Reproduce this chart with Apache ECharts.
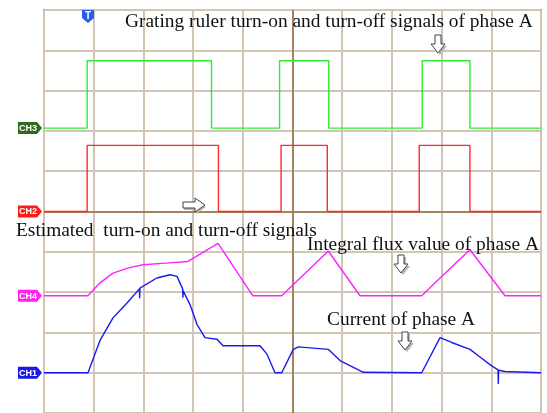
<!DOCTYPE html>
<html>
<head>
<meta charset="utf-8">
<script src="https://cdn.jsdelivr.net/npm/echarts@6/dist/echarts.min.js"></script>
<style>
  html, body { margin: 0; padding: 0; background: #ffffff; }
  #scope { width: 547px; height: 413px; }
</style>
</head>
<body>
<div id="scope"></div>
<script>
// Time axis in screen divisions (0..10), levels in vertical divisions (0..10, bottom = 0)

// CH3: grating ruler switching signal (green)
const ch3Time  = [0, 0.868, 0.868, 3.37, 3.37, 4.74, 4.74, 5.73, 5.73, 7.61, 7.61, 8.57, 8.57, 10];
const ch3Level = [7.07, 7.07, 8.74, 8.74, 7.07, 7.07, 8.74, 8.74, 7.07, 7.07, 8.74, 8.74, 7.07, 7.07];

// CH2: estimated switching signal (red)
const ch2Time  = [0, 0.868, 0.868, 3.51, 3.51, 4.77, 4.77, 5.70, 5.70, 7.55, 7.55, 8.57, 8.57, 10];
const ch2Level = [5.0, 5.0, 6.64, 6.64, 5.0, 5.0, 6.64, 6.64, 5.0, 5.0, 6.64, 6.64, 5.0, 5.0];

// CH4: integral flux of phase A (magenta)
const ch4Time  = [0, 0.885, 1.127, 1.388, 1.70, 1.992, 2.45, 2.897, 3.501, 4.199, 4.783, 5.72, 6.358, 7.60, 7.968, 8.571, 9.276, 10];
const ch4Level = [2.91, 2.91, 3.23, 3.47, 3.60, 3.68, 3.72, 3.76, 4.21, 2.91, 2.91, 4.02, 2.91, 2.91, 3.35, 4.05, 2.91, 2.91];

// CH1: current of phase A (blue)
const ch1Time  = [0, 0.885, 1.127, 1.388, 1.67, 1.92, 1.925, 1.93, 2.27, 2.535, 2.676, 2.79, 2.795, 2.80, 2.938, 3.078, 3.239, 3.481, 3.602, 4.346, 4.487, 4.648, 4.783, 5.016, 5.117, 5.72, 5.956, 6.425, 7.60, 7.968, 8.203, 8.571, 8.738, 9.008, 9.135, 9.141, 9.147, 9.276, 10];
const ch1Level = [1.0, 1.0, 1.80, 2.36, 2.73, 3.08, 2.85, 3.10, 3.35, 3.43, 3.39, 3.08, 2.86, 3.03, 2.69, 2.20, 1.87, 1.83, 1.67, 1.67, 1.46, 1.0, 1.0, 1.58, 1.64, 1.58, 1.30, 1.01, 1.0, 1.87, 1.75, 1.58, 1.42, 1.17, 1.07, 0.72, 1.06, 1.03, 1.0];

// Channel reference markers on the left edge
const channelNames  = ['CH3', 'CH2', 'CH4', 'CH1'];
const channelBase   = [7.07, 5.0, 2.91, 1.0];
const channelColors = ['#2e6b1f', '#ff1a1a', '#ff22ee', '#1a1ae6'];

const traceColors = ['#2aee2a', '#ff2a2a', '#ff22ff', '#1a1aee'];

function zip(t, v) { return t.map((x, i) => [x, v[i]]); }

const chart = echarts.init(document.getElementById('scope'), null, { renderer: 'canvas' });

const gridLine = { show: true, lineStyle: { color: '#d3c5b6', width: 2 } };

function trace(name, data, color, extra) {
  return Object.assign({
    name: name,
    type: 'line',
    data: data,
    showSymbol: false,
    symbol: 'none',
    animation: false,
    lineStyle: { color: color, width: 1.4 },
    z: 5
  }, extra || {});
}

chart.setOption({
  animation: false,
  backgroundColor: '#ffffff',
  grid: { left: 44, top: 10, width: 497, height: 406, show: true, borderColor: '#9a7b5c', borderWidth: 2, backgroundColor: 'transparent' },
  xAxis: {
    type: 'value', min: 0, max: 10, interval: 1,
    axisLine: { show: false }, axisTick: { show: false }, axisLabel: { show: false },
    splitLine: gridLine
  },
  yAxis: {
    type: 'value', min: 0, max: 10, interval: 1,
    axisLine: { show: false }, axisTick: { show: false }, axisLabel: { show: false },
    splitLine: gridLine
  },
  series: [
    trace('centre', [], '#000', {
      markLine: {
        silent: true, symbol: 'none', animation: false,
        label: { show: false },
        lineStyle: { color: '#a3825f', width: 2, type: 'solid' },
        data: [{ xAxis: 5 }, { yAxis: 5 }]
      },
      z: 2
    }),
    trace('CH3', zip(ch3Time, ch3Level), traceColors[0]),
    trace('CH2', zip(ch2Time, ch2Level), traceColors[1]),
    trace('CH4', zip(ch4Time, ch4Level), traceColors[2]),
    trace('CH1', zip(ch1Time, ch1Level), traceColors[3])
  ]
});

// Decorations: channel markers, trigger marker, annotations and arrows
const serif = '"Liberation Serif", "Times New Roman", serif';
const graphics = [];

channelNames.forEach((name, i) => {
  const y = chart.convertToPixel({ gridIndex: 0 }, [0, channelBase[i]])[1];
  graphics.push({
    type: 'polygon', z: 20,
    shape: { points: [[18, y - 6], [37, y - 6], [42, y], [37, y + 6], [18, y + 6]] },
    style: { fill: channelColors[i] }
  });
  graphics.push({
    type: 'text', z: 21,
    style: { text: name, x: 28, y: y + 0.5, fill: '#ffffff', font: 'bold 9px "Liberation Sans", Arial, sans-serif', textAlign: 'center', textVerticalAlign: 'middle' }
  });
});

// trigger marker
graphics.push({
  type: 'polygon', z: 20,
  shape: { points: [[82, 10], [94, 10], [94, 18], [88, 23], [82, 18]] },
  style: { fill: '#2a5be8' }
});
graphics.push({
  type: 'text', z: 21,
  style: { text: 'T', x: 88, y: 16, fill: '#ffffff', font: 'bold 10px "Liberation Sans", Arial, sans-serif', textAlign: 'center', textVerticalAlign: 'middle' }
});

function label(text, x, y) {
  graphics.push({
    type: 'text', z: 15,
    style: { text: text, x: x, y: y, fill: '#111111', font: '19.4px ' + serif, textVerticalAlign: 'middle' }
  });
}
label('Grating ruler turn-on and turn-off signals of phase A', 125, 22);
label('Estimated  turn-on and turn-off signals', 16, 231);
label('Integral flux value of phase A', 307, 245);
label('Current of phase A', 327, 320);

function downArrow(cx, top) {
  const h = 18;
  const pts = [[cx - 3, top], [cx + 3, top], [cx + 3, top + 9], [cx + 7, top + 9], [cx, top + h], [cx - 7, top + 9], [cx - 3, top + 9]];
  graphics.push({ type: 'polygon', z: 16, shape: { points: pts.map(p => [p[0] + 2, p[1] + 2]) }, style: { fill: '#b5b5b5' } });
  graphics.push({ type: 'polygon', z: 17, shape: { points: pts }, style: { fill: '#ffffff', stroke: '#444444', lineWidth: 1 } });
}
function rightArrow(left, cy) {
  const pts = [[left, cy - 3], [left + 12, cy - 3], [left + 12, cy - 7], [left + 22, cy], [left + 12, cy + 7], [left + 12, cy + 3], [left, cy + 3]];
  graphics.push({ type: 'polygon', z: 16, shape: { points: pts.map(p => [p[0] + 1, p[1] + 2]) }, style: { fill: '#b5b5b5' } });
  graphics.push({ type: 'polygon', z: 17, shape: { points: pts }, style: { fill: '#ffffff', stroke: '#444444', lineWidth: 1 } });
}
downArrow(438, 35);
downArrow(401, 255);
downArrow(405, 332);
rightArrow(183, 205);

chart.setOption({ graphic: { elements: graphics } });
</script>
</body>
</html>
